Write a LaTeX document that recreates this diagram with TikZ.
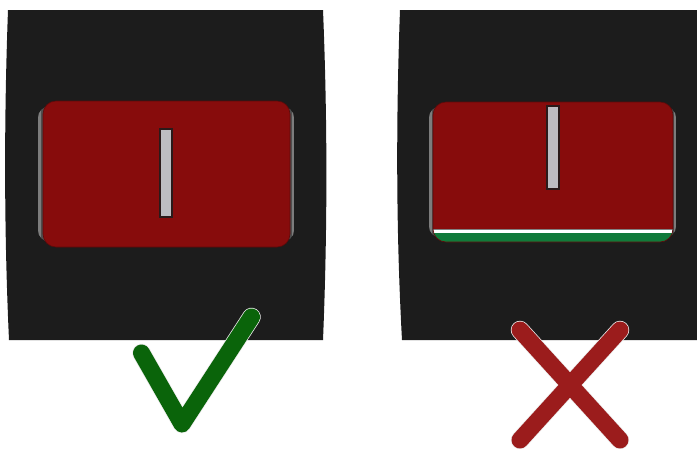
\documentclass[tikz,border=0pt]{standalone}
\usetikzlibrary{calc}
\definecolor{panel}{HTML}{1C1C1C}
\definecolor{rocker}{HTML}{870C0C}
\definecolor{rockeredge}{HTML}{5E0A0A}
\definecolor{bevel}{HTML}{4E4E4E}
\definecolor{bevellight}{HTML}{7C7C7C}
\definecolor{bar}{HTML}{BDBDC2}
\definecolor{baredge}{HTML}{2A1A1A}
\definecolor{stripe}{HTML}{107A3A}
\definecolor{okgreen}{HTML}{0A640A}
\definecolor{badred}{HTML}{9B1C1C}
\tikzset{
  panelfill/.style={fill=panel},
  rockerbox/.style={fill=rocker, draw=rockeredge, line width=0.6pt, rounded corners=13pt},
  barbox/.style={fill=bar, draw=baredge, line width=1.3pt},
  halo/.style={draw=white!85!gray, line width=18.5pt, line cap=round, line join=round},
  okmark/.style={draw=okgreen, line width=17pt, line cap=round, line join=round},
  badmark/.style={draw=badred, line width=17pt, line cap=round, line join=round},
}
\begin{document}
\begin{tikzpicture}[x=1pt,y=-1pt]
\useasboundingbox (0,0) rectangle (697,448);
\clip (0,0) rectangle (697,448);
\fill[white] (0,0) rectangle (697,448);
% left panel
\path[panelfill] (8,10) .. controls (4,120) and (4,230) .. (9,340)
  -- (323,340) .. controls (327.5,230) and (327.5,120) .. (323,10) -- cycle;
% right panel
\path[panelfill] (400,10) .. controls (396,120) and (396,230) .. (402,340)
  -- (700,340) -- (700,10) -- cycle;
% left switch bevel
\begin{scope}
  \clip[rounded corners=12pt] (38,106) rectangle (294,242);
  \fill[bevel] (38,106) rectangle (294,242);
  \fill[bevellight] (38,106) rectangle (40.5,242);
  \fill[bevellight] (291.5,106) rectangle (294,242);
\end{scope}
\path[rockerbox] (43,101) rectangle (290,247);
\path[barbox] (160,129) rectangle (172,217);
% right switch bevel
\begin{scope}
  \clip[rounded corners=12pt] (429,106) rectangle (676,238);
  \fill[bevel] (429,106) rectangle (676,238);
  \fill[bevellight] (429,106) rectangle (431.5,238);
  \fill[bevellight] (673.5,106) rectangle (676,238);
\end{scope}
\begin{scope}
  \clip[rounded corners=13pt] (433,102) rectangle (673,242);
  \fill[rocker] (433,102) rectangle (673,242);
  \fill[stripe] (433,232) rectangle (673,243);
  \fill[gray] (433,228.5) rectangle (673,229.5);
  \fill[white] (433,229.5) rectangle (673,232.5);
\end{scope}
\path[draw=rockeredge, line width=0.6pt, rounded corners=13pt] (433,102) rectangle (673,242);
\path[barbox] (547,106) rectangle (559,189);
% check mark
\path[halo] (141.5,353) -- (182,424) -- (251.5,317);
\path[okmark] (141.5,353) -- (182,424) -- (251.5,317);
% cross
\path[halo] (520,330) -- (620,440);
\path[halo] (620,330) -- (520,440);
\path[badmark] (520,330) -- (620,440);
\path[badmark] (620,330) -- (520,440);
\end{tikzpicture}
\end{document}
